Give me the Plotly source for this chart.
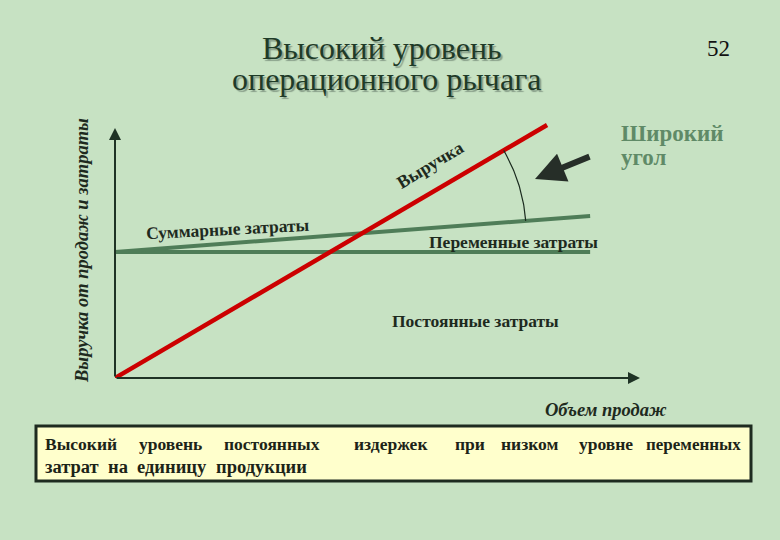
import numpy as np
import plotly.graph_objects as go

# ---- data (units: sales volume vs. money) ----
volume = [0, 8.23]
revenue = [0, 10.12]
cost_volume = [0, 9.05]
fixed_costs = [5.04, 5.04]
total_costs = [5.04, 6.48]

W, H = 780, 540
L, R, T, B = 115, 140, 118, 162
PW, PH = W - L - R, H - T - B
XR = [0, 10]
YR = [0, 10.4]
SX = PW / (XR[1] - XR[0])
SY = PH / (YR[1] - YR[0])


def px(x):
    return (x - L) / PW


def py(y):
    return (H - B - y) / PH


SERIF = "Liberation Serif"
DARK = "#1f3325"
GREEN = "#4f7d58"

fig = go.Figure()
fig.add_trace(go.Scatter(x=cost_volume, y=fixed_costs, mode="lines",
                         line=dict(color=GREEN, width=4), hoverinfo="skip"))
fig.add_trace(go.Scatter(x=cost_volume, y=total_costs, mode="lines",
                         line=dict(color=GREEN, width=4), hoverinfo="skip"))
fig.add_trace(go.Scatter(x=volume, y=revenue, mode="lines",
                         line=dict(color="#cc0000", width=4.5), hoverinfo="skip"))

# angle arc between revenue and total costs lines (drawn in pixel geometry)
k_rev = (revenue[1] - revenue[0]) / (volume[1] - volume[0])
k_tc = (total_costs[1] - total_costs[0]) / (cost_volume[1] - cost_volume[0])
cx = (total_costs[0] - revenue[0]) / (k_rev - k_tc)
cy = revenue[0] + k_rev * cx
a1 = np.arctan(k_tc * SY / SX)
a2 = np.arctan(k_rev * SY / SX)
th = np.linspace(a1, a2, 40)
r = 164
fig.add_trace(go.Scatter(x=cx + r * np.cos(th) / SX, y=cy + r * np.sin(th) / SY,
                         mode="lines", line=dict(color="#1a2a1e", width=1.2),
                         hoverinfo="skip"))

ann = []
# axes with arrows
ann.append(dict(x=10, y=0, ax=0, ay=0, xref="x", yref="y", axref="x", ayref="y",
                text="", showarrow=True, arrowhead=2, arrowsize=1.2,
                arrowwidth=2, arrowcolor=DARK))
ann.append(dict(x=0, y=10, ax=0, ay=0, xref="x", yref="y", axref="x", ayref="y",
                text="", showarrow=True, arrowhead=2, arrowsize=1.2,
                arrowwidth=2, arrowcolor=DARK))

# thick pointer arrow (offset in pixels)
ann.append(dict(x=px(535), y=py(179), ax=56, ay=-23, xref="paper",
                yref="paper", text="",
                showarrow=True, arrowhead=2, arrowsize=1.0, arrowwidth=6,
                arrowcolor="#262e28"))


def txt(t, x, y, size, color="#1e2a1e", angle=0, xanchor="center",
        family=SERIF, weight="normal", style="normal", shadow=None):
    f = dict(family=family, size=size, color=color, weight=weight, style=style)
    if shadow:
        f["shadow"] = shadow
    ann.append(dict(text=t, x=px(x), y=py(y), xref="paper", yref="paper",
                    showarrow=False, textangle=angle, xanchor=xanchor,
                    yanchor="middle", font=f))


TSH = "2px 2px 1px rgba(95,115,100,0.6)"
txt("Высокий уровень", 382, 48, 32, color="#1f3b28", shadow=TSH)
txt("операционного рычага", 386, 79, 32, color="#1f3b28", shadow=TSH)
txt("52", 718, 48, 23, color="#111111")
txt("Широкий", 619, 133, 23, color="#5f8a67", xanchor="left", weight="bold")
txt("угол", 619, 157, 23, color="#5f8a67", xanchor="left", weight="bold")

txt("Выручка", 430, 165, 18, angle=-31, weight="bold")
txt("Суммарные затраты", 228, 229, 17.5, angle=-3, weight="bold")
txt("Переменные затраты", 513, 242, 17.5, weight="bold")
txt("Постоянные затраты", 475, 321, 17.5, weight="bold")
txt("Объем продаж", 606, 410, 18.5, weight="bold", style="italic")
txt("Выручка от продаж и затраты", 82, 251, 18.5, angle=-90, weight="bold",
    style="italic")

# text box (justified first line)
BOXC = "#1c2418"
words1 = ["Высокий", "уровень", "постоянных", "издержек", "при", "низком",
          "уровне", "переменных"]
centers1 = [82, 170, 272, 391, 470, 529, 606, 700]
for i, (w, c) in enumerate(zip(words1, centers1)):
    if i == 0:
        txt(w, 43, 444, 17.5, weight="bold", xanchor="left", color=BOXC)
    elif i == len(words1) - 1:
        txt(w, 743, 444, 17, weight="bold", xanchor="right", color=BOXC)
    else:
        txt(w, c, 444, 17.5, weight="bold", color=BOXC)
words2 = ["затрат", "на", "единицу", "продукции"]
centers2 = [72, 118, 172, 261]
for w, c in zip(words2, centers2):
    txt(w, c, 467, 18.5, weight="bold", color=BOXC)

shapes = [dict(type="rect", xref="paper", yref="paper", x0=px(36), x1=px(751),
               y0=py(481), y1=py(426), fillcolor="#ffffcc",
               line=dict(color="#1e2b20", width=3), layer="below")]

fig.update_layout(
    width=W, height=H, margin=dict(l=L, r=R, t=T, b=B),
    paper_bgcolor="#c7e2c3", plot_bgcolor="rgba(0,0,0,0)",
    showlegend=False, annotations=ann, shapes=shapes,
    xaxis=dict(range=XR, visible=False, fixedrange=True),
    yaxis=dict(range=YR, visible=False, fixedrange=True),
)
fig.write_html("out.html", config={"displayModeBar": False},
               post_script="document.body.style.margin='0';"
                           "document.body.style.padding='0';")
